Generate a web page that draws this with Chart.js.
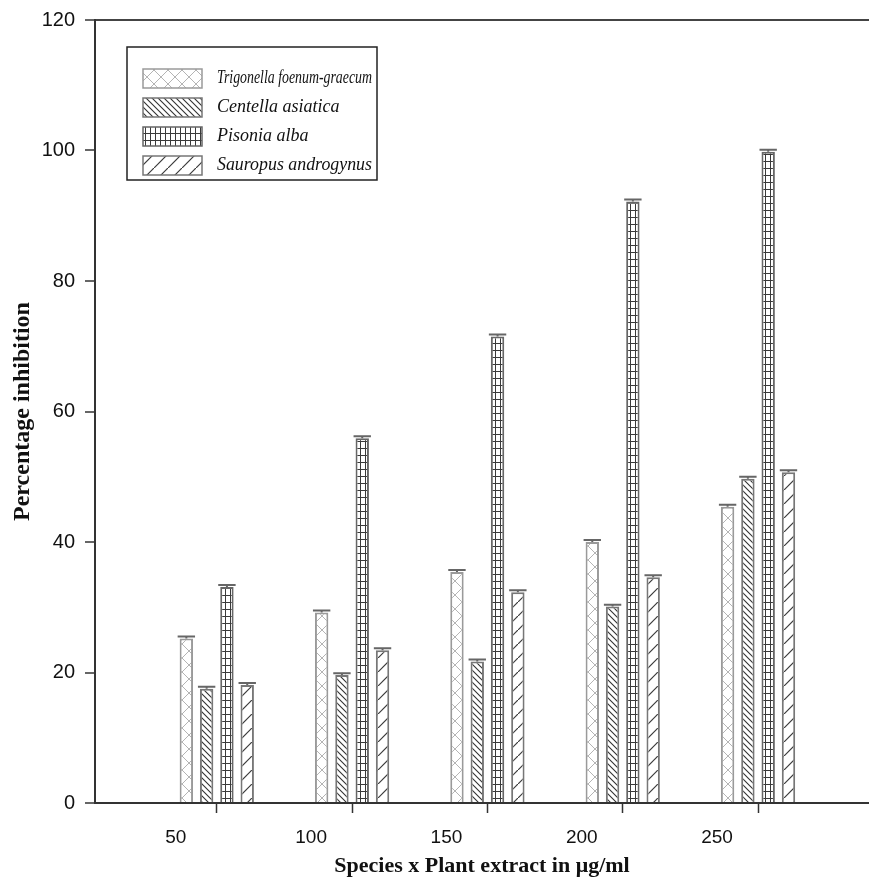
<!DOCTYPE html>
<html lang="en">
<head>
<meta charset="UTF-8">
<title>Percentage inhibition</title>
<script src="https://cdn.jsdelivr.net/npm/chart.js"></script>
<style>
  body { margin: 0; background: #fff; }
  .chart-box { width: 869px; height: 883px; }
</style>
</head>
<body>
<div class="chart-box"><canvas id="inhibitionChart"></canvas></div>
<script>
// concentrations (µg/ml) and mean % inhibition per species
const doses = [50, 100, 150, 200, 250];
const speciesNames = ['Trigonella foenum-graecum', 'Centella asiatica', 'Pisonia alba', 'Sauropus androgynus'];
const trigonella = [25.2, 29.2, 35.4, 40.0, 45.4];
const centella = [17.5, 19.6, 21.7, 30.1, 49.7];
const pisonia = [33.1, 55.9, 71.5, 92.2, 99.8];
const sauropus = [18.1, 23.4, 32.3, 34.6, 50.7];
// error bar (SD) values
const trigonellaErr = [0.3, 0.3, 0.3, 0.3, 0.3];
const centellaErr = [0.3, 0.3, 0.3, 0.3, 0.3];
const pisoniaErr = [0.3, 0.3, 0.3, 0.3, 0.3];
const sauropusErr = [0.3, 0.3, 0.3, 0.3, 0.3];
const yTicks = [0, 20, 40, 60, 80, 100, 120];

// hatch fills
function makePattern(kind) {
    const c = document.createElement('canvas');
    const g = c.getContext('2d');
    if (kind === 'cross') {
        c.width = 14; c.height = 14;
        g.fillStyle = '#fff'; g.fillRect(0, 0, 14, 14);
        g.strokeStyle = '#b4b4b4'; g.lineWidth = 1;
        g.beginPath();
        g.moveTo(0, 0); g.lineTo(14, 14);
        g.moveTo(14, 0); g.lineTo(0, 14);
        g.stroke();
    } else if (kind === 'back') {
        c.width = 6; c.height = 6;
        g.fillStyle = '#fff'; g.fillRect(0, 0, 6, 6);
        g.strokeStyle = '#333'; g.lineWidth = 1.1;
        g.beginPath();
        g.moveTo(-1, -1); g.lineTo(7, 7);
        g.moveTo(5, -1); g.lineTo(7, 1);
        g.moveTo(-1, 5); g.lineTo(1, 7);
        g.stroke();
    } else if (kind === 'grid') {
        c.width = 5; c.height = 7;
        g.fillStyle = '#fff'; g.fillRect(0, 0, 5, 7);
        g.strokeStyle = '#3a3a3a'; g.lineWidth = 1;
        g.beginPath();
        g.moveTo(0, 0.5); g.lineTo(5, 0.5);
        g.moveTo(0.5, 0); g.lineTo(0.5, 7);
        g.stroke();
    } else {
        c.width = 14; c.height = 14;
        g.fillStyle = '#fff'; g.fillRect(0, 0, 14, 14);
        g.strokeStyle = '#3a3a3a'; g.lineWidth = 1.2;
        g.beginPath();
        g.moveTo(-1, 15); g.lineTo(15, -1);
        g.stroke();
    }
    return g.createPattern(c, 'repeat');
}

function points(vals) {
    return doses.map((d, i) => ({ x: d, y: vals[i] }));
}

// little caps on top of each bar
const errorCaps = {
    id: 'errorCaps',
    afterDatasetsDraw(chart) {
        const ctx = chart.ctx;
        const y = chart.scales.y;
        ctx.save();
        ctx.strokeStyle = '#666';
        ctx.lineWidth = 2;
        chart.data.datasets.forEach((ds, di) => {
            chart.getDatasetMeta(di).data.forEach((bar, i) => {
                const top = y.getPixelForValue(ds.data[i].y + ds.errors[i]);
                const half = bar.width / 2 + 2;
                ctx.beginPath();
                ctx.moveTo(bar.x - half, top);
                ctx.lineTo(bar.x + half, top);
                ctx.moveTo(bar.x, top);
                ctx.lineTo(bar.x, bar.y);
                ctx.stroke();
            });
        });
        ctx.restore();
    }
};

// boxed legend inside the plot
const boxLegend = {
    id: 'boxLegend',
    afterDraw(chart) {
        const ctx = chart.ctx;
        const left = chart.chartArea.left + 32;
        const top = chart.chartArea.top + 27;
        ctx.save();
        ctx.fillStyle = '#fff';
        ctx.fillRect(left, top, 250, 133);
        ctx.strokeStyle = '#222';
        ctx.lineWidth = 1.5;
        ctx.strokeRect(left, top, 250, 133);
        chart.data.datasets.forEach((ds, i) => {
            const y = top + 22 + i * 29;
            ctx.fillStyle = ds.backgroundColor;
            ctx.fillRect(left + 16, y, 59, 19);
            ctx.strokeStyle = ds.borderColor;
            ctx.lineWidth = 1.5;
            ctx.strokeRect(left + 16, y, 59, 19);
            ctx.fillStyle = '#111';
            ctx.font = 'italic 18px "Liberation Serif"';
            ctx.textBaseline = 'middle';
            ctx.fillText(ds.label, left + 90, y + 9, 155);
        });
        ctx.restore();
    }
};

const ctx = document.getElementById('inhibitionChart').getContext('2d');
const chart = new Chart(ctx, {
    type: 'bar',
    data: {
        datasets: [
            { label: speciesNames[0], data: points(trigonella), errors: trigonellaErr, backgroundColor: makePattern('cross'), borderColor: '#9a9a9a' },
            { label: speciesNames[1], data: points(centella), errors: centellaErr, backgroundColor: makePattern('back'), borderColor: '#777' },
            { label: speciesNames[2], data: points(pisonia), errors: pisoniaErr, backgroundColor: makePattern('grid'), borderColor: '#666' },
            { label: speciesNames[3], data: points(sauropus), errors: sauropusErr, backgroundColor: makePattern('fwd'), borderColor: '#777' }
        ]
    },
    options: {
        responsive: true,
        maintainAspectRatio: false,
        animation: false,
        layout: { padding: { top: 20, right: 0, left: 0, bottom: 0 } },
        datasets: {
            bar: { categoryPercentage: 0.6, barPercentage: 0.66, borderWidth: 2 }
        },
        scales: {
            x: {
                type: 'linear',
                min: 5,
                max: 291,
                offset: false,
                afterBuildTicks: s => { s.ticks = doses.map(v => ({ value: v })); },
                afterFit: s => { s.height = 80; s.paddingLeft = 0; s.paddingRight = 0; },
                border: { display: true, color: '#333', width: 2 },
                grid: { offset: false, drawOnChartArea: false, drawTicks: true, tickLength: 10, tickColor: '#333', tickWidth: 1.5 },
                ticks: { labelOffset: -41, padding: 13, color: '#111', font: { family: 'Liberation Sans', size: 19 } },
                title: {
                    display: true,
                    text: 'Species x Plant extract in μg/ml',
                    color: '#111',
                    font: { family: 'Liberation Serif', size: 22, weight: 'bold' },
                    padding: { top: 0, bottom: 3 }
                }
            },
            y: {
                min: 0,
                max: 120,
                afterBuildTicks: s => { s.ticks = yTicks.map(v => ({ value: v })); },
                afterFit: s => { s.width = 95; s.paddingTop = 0; s.paddingBottom = 0; },
                border: { display: true, color: '#333', width: 2 },
                grid: {
                    color: c => (c.tick && c.tick.value === 120 ? '#444' : 'rgba(0,0,0,0)'),
                    lineWidth: 2,
                    drawTicks: true,
                    tickLength: 10,
                    tickColor: '#333',
                    tickWidth: 1.5
                },
                ticks: { padding: 10, color: '#111', font: { family: 'Liberation Sans', size: 20 } },
                title: {
                    display: true,
                    text: 'Percentage inhibition',
                    color: '#111',
                    font: { family: 'Liberation Serif', size: 24, weight: 'bold' },
                    padding: { top: 8, bottom: 0 }
                }
            }
        },
        plugins: {
            legend: { display: false },
            tooltip: { enabled: false }
        }
    },
    plugins: [errorCaps, boxLegend]
});
</script>
</body>
</html>
